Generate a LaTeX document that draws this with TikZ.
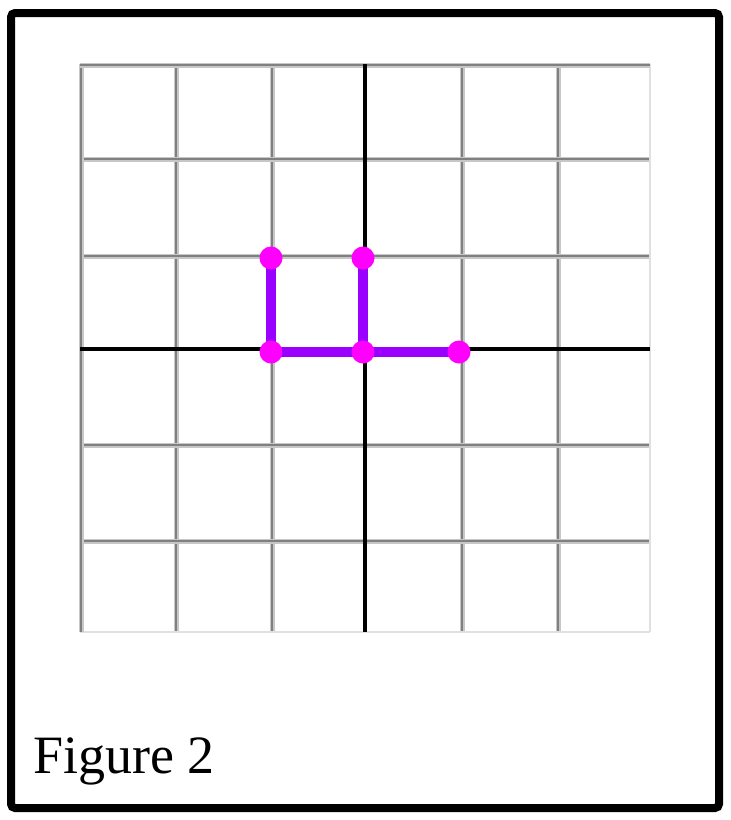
\documentclass[tikz,border=0pt]{standalone}
\usepackage{fontspec}
\setmainfont{Liberation Serif}
\definecolor{pathpurple}{HTML}{9900FF}
\definecolor{dotmagenta}{HTML}{FF00FF}
\begin{document}
\begin{tikzpicture}[x=1pt,y=-1pt,
  gridhalo/.style={draw=black!22,line width=5pt},
  gridcore/.style={draw=black!50,line width=2.2pt},
  gridedge/.style={draw=black!12,line width=1.5pt},
  axisline/.style={draw=black,line width=3.5pt},
  pathline/.style={draw=pathpurple,line width=10.5pt},
  dot/.style={circle,inner sep=0pt,minimum size=23pt},
  dotfill/.style={fill=dotmagenta},
  frame/.style={draw=black,line width=8pt,rounded corners=4pt}]
\useasboundingbox (0,0) rectangle (731,820);
% grid
\foreach \x in {176,272,462,558} {
  \draw[gridhalo] (\x,64) -- (\x,632);
  \draw[gridcore] (\x,64) -- (\x,632);
}
\foreach \y in {159,256,445,541} {
  \draw[gridhalo] (80,\y) -- (650,\y);
  \draw[gridcore] (80,\y) -- (650,\y);
}
\draw[gridedge] (650,64) -- (650,632);
\draw[gridedge] (80,632) -- (650,632);
\draw[gridhalo] (81,64) -- (81,632);
\draw[gridcore] (81,64) -- (81,632);
\draw[gridhalo] (80,65) -- (650,65);
\draw[gridcore] (80,65) -- (650,65);
% axes
\draw[axisline] (365,64) -- (365,632);
\draw[axisline] (80,349) -- (650,349);
% path
\node[dot] (p1) at (271,258) {};
\node[dot] (p2) at (363,258) {};
\node[dot] (p3) at (271,352) {};
\node[dot] (p4) at (363,352) {};
\node[dot] (p5) at (459,352) {};
\draw[pathline] (p1.center) -- (p3.center) -- (p5.center);
\draw[pathline] (p2.center) -- (p4.center);
\foreach \n in {p1,p2,p3,p4,p5} \fill[dotfill] (\n) circle (11.5pt);
% frame
\draw[frame] (11,13) rectangle (719,808);
% caption
\node[anchor=base west,inner sep=0pt,font=\fontsize{54pt}{62pt}\selectfont] (cap) at (33,773) {Figure 2};
\end{tikzpicture}
\end{document}
